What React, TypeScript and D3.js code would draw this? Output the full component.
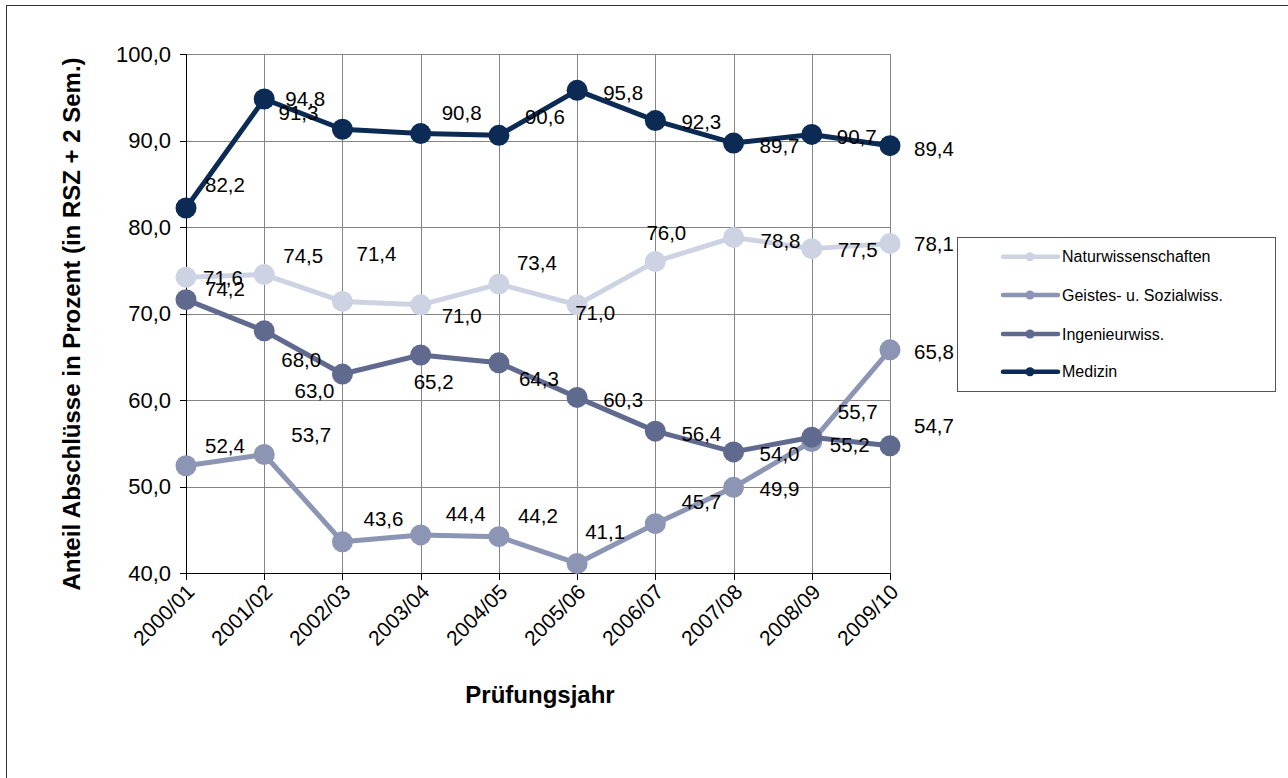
import React from "react";
import * as d3 from "d3";

const years = ["2000/01", "2001/02", "2002/03", "2003/04", "2004/05", "2005/06", "2006/07", "2007/08", "2008/09", "2009/10"];
const yTicks = [40, 50, 60, 70, 80, 90, 100];

const naturValues = [74.2, 74.5, 71.4, 71.0, 73.4, 71.0, 76.0, 78.8, 77.5, 78.1];
const geistesValues = [52.4, 53.7, 43.6, 44.4, 44.2, 41.1, 45.7, 49.9, 55.2, 65.8];
const ingenieurValues = [71.6, 68.0, 63.0, 65.2, 64.3, 60.3, 56.4, 54.0, 55.7, 54.7];
const medizinValues = [82.2, 94.8, 91.3, 90.8, 90.6, 95.8, 92.3, 89.7, 90.7, 89.4];

const seriesNames = ["Naturwissenschaften", "Geistes- u. Sozialwiss.", "Ingenieurwiss.", "Medizin"];

// label offsets (label centre relative to point), manually positioned as in the reference
const naturLabelOffsets = [[39, 11], [39, -19], [34, -48], [41, 11], [38, -21], [18, 8], [11, -29], [47, 3], [46, 1], [44, 0]];
const geistesLabelOffsets = [[39, -20], [47, -20], [41, -23], [45, -21], [39, -21], [28, -32], [46, -22], [46, 1], [38, 3], [44, 2]];
const ingenieurLabelOffsets = [[37, -22], [37, 29], [-28, 17], [13, 27], [40, 16], [46, 2], [46, 2], [46, 2], [46, -26], [44, -20]];
const medizinLabelOffsets = [[39, -23], [41, 0], [-44, -17], [41, -21], [46, -19], [46, 2], [46, 1], [46, 3], [45, 2], [44, 3]];

const colors = ["#cdd3e3", "#8c95b3", "#606a8f", "#0b2a54"];

const FONT = "'Liberation Sans', Arial, sans-serif";

const locale = d3.formatLocale({ decimal: ",", thousands: ".", grouping: [3], currency: ["", "€"] });
const fmt = locale.format(".1f");

export default function App() {
  const W = 1288, H = 778;
  const x = d3.scalePoint<string>().domain(years).range([186, 890]);
  const y = d3.scaleLinear().domain([40, 100]).range([573, 54]);

  const series = [
    { name: seriesNames[0], values: naturValues, offsets: naturLabelOffsets, color: colors[0] },
    { name: seriesNames[1], values: geistesValues, offsets: geistesLabelOffsets, color: colors[1] },
    { name: seriesNames[2], values: ingenieurValues, offsets: ingenieurLabelOffsets, color: colors[2] },
    { name: seriesNames[3], values: medizinValues, offsets: medizinLabelOffsets, color: colors[3] },
  ];

  const line = d3
    .line<number>()
    .x((_, i) => x(years[i]) as number)
    .y((d) => y(d));

  const legendX = 957, legendY = 237, legendW = 318, legendH = 154;
  const legendRows = [256.7, 295, 334, 371.7];

  return (
    <svg width={W} height={H} style={{ position: "absolute", left: 0, top: 0, background: "#fff" }} fontFamily={FONT}>
      <rect x={0} y={0} width={W} height={H} fill="#fff" />
      <rect x={6.5} y={5.5} width={1400} height={900} fill="none" stroke="#333" strokeWidth={1} />

      {/* gridlines */}
      {yTicks.map((t) => (
        <line key={"hg" + t} x1={186} x2={890} y1={Math.round(y(t)) + 0.5} y2={Math.round(y(t)) + 0.5} stroke="#858585" strokeWidth={1} />
      ))}
      {years.map((yr) => (
        <line key={"vg" + yr} x1={Math.round(x(yr) as number) + 0.5} x2={Math.round(x(yr) as number) + 0.5} y1={54} y2={573} stroke="#858585" strokeWidth={1} />
      ))}

      {/* axes */}
      <line x1={186.5} x2={186.5} y1={54} y2={573.5} stroke="#000" strokeWidth={1} />
      <line x1={186} x2={890} y1={573.5} y2={573.5} stroke="#000" strokeWidth={1} />
      {yTicks.map((t) => (
        <g key={"yt" + t}>
          <line x1={180} x2={186} y1={Math.round(y(t)) + 0.5} y2={Math.round(y(t)) + 0.5} stroke="#000" strokeWidth={1} />
          <text x={171} y={y(t)} dy="0.36em" textAnchor="end" fontSize={22} fill="#000">
            {fmt(t)}
          </text>
        </g>
      ))}
      {years.map((yr) => {
        const px = Math.round(x(yr) as number) + 0.5;
        return (
          <g key={"xt" + yr}>
            <line x1={px} x2={px} y1={573} y2={580} stroke="#000" strokeWidth={1} />
            <text transform={`translate(${px + 4},${588}) rotate(-45)`} textAnchor="end" dy="0.35em" fontSize={21} fill="#000">
              {yr}
            </text>
          </g>
        );
      })}

      {/* axis titles */}
      <text transform={`translate(72,324) rotate(-90)`} textAnchor="middle" dy="0.35em" fontSize={24} fontWeight="bold" fill="#000">
        Anteil Abschlüsse in Prozent (in RSZ + 2 Sem.)
      </text>
      <text x={540} y={695} textAnchor="middle" dy="0.35em" fontSize={24} fontWeight="bold" fill="#000">
        Prüfungsjahr
      </text>

      {/* series */}
      {series.map((s) => (
        <g key={s.name}>
          <path d={line(s.values) || ""} fill="none" stroke={s.color} strokeWidth={5} strokeLinejoin="round" />
          {s.values.map((v, i) => (
            <circle key={i} cx={x(years[i]) as number} cy={y(v)} r={10.5} fill={s.color} />
          ))}
        </g>
      ))}

      {/* data labels */}
      {series.map((s) => (
        <g key={"lbl" + s.name}>
          {s.values.map((v, i) => (
            <text
              key={i}
              x={(x(years[i]) as number) + s.offsets[i][0]}
              y={y(v) + s.offsets[i][1]}
              dy="0.36em"
              textAnchor="middle"
              fontSize={20.5}
              fill="#000"
            >
              {fmt(v)}
            </text>
          ))}
        </g>
      ))}

      {/* legend */}
      <rect x={legendX + 0.5} y={legendY + 0.5} width={legendW} height={legendH} fill="#fff" stroke="#555" strokeWidth={1} />
      {series.map((s, i) => (
        <g key={"lg" + s.name}>
          <line x1={1003} x2={1058} y1={legendRows[i]} y2={legendRows[i]} stroke={s.color} strokeWidth={4.5} strokeLinecap="round" />
          <circle cx={1030} cy={legendRows[i]} r={4.5} fill={s.color} />
          <text x={1062} y={legendRows[i]} dy="0.36em" fontSize={16} fill="#000">
            {s.name}
          </text>
        </g>
      ))}
    </svg>
  );
}
